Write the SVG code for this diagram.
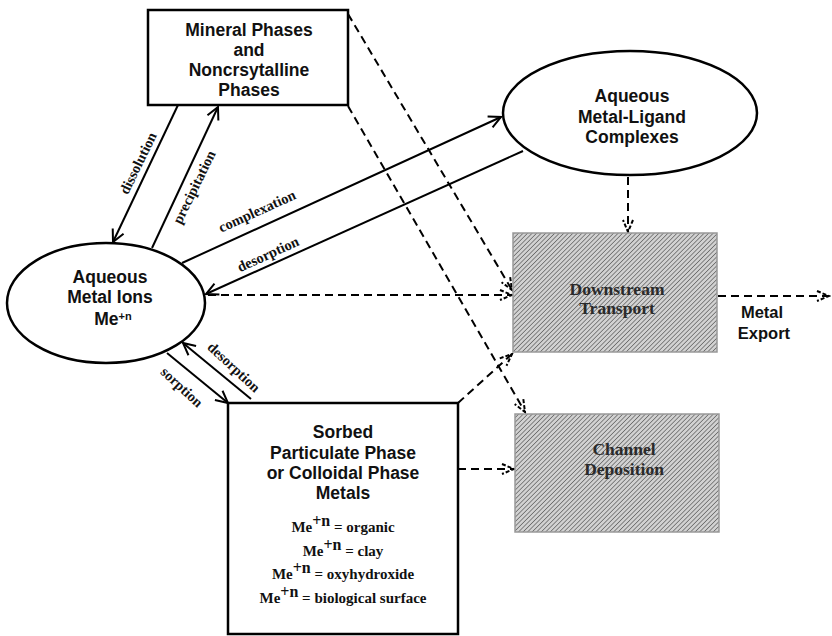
<svg xmlns="http://www.w3.org/2000/svg" width="832" height="636" viewBox="0 0 832 636">
<style>
.node{fill:#fff;stroke:#000;stroke-width:2.5}
.lbl{font-family:"Liberation Sans",Arial,sans-serif;font-weight:bold;font-size:17.5px;fill:#111;text-anchor:middle}
.ser{font-family:"Liberation Serif","Times New Roman",serif;font-weight:bold;font-size:14.5px;fill:#111;text-anchor:middle}
.me{font-family:"Liberation Serif","Times New Roman",serif;font-weight:bold;font-size:15px;fill:#111;text-anchor:middle}
.hl{font-family:"Liberation Serif","Times New Roman",serif;font-weight:bold;font-size:17.5px;fill:#2a2a2a;text-anchor:middle}
.hatch{fill:url(#hatch);stroke:#999;stroke-width:1.5}
.solid{fill:none;stroke:#000;stroke-width:2;marker-end:url(#arr)}
.dash{fill:none;stroke:#000;stroke-width:2;stroke-dasharray:8 5;marker-end:url(#darr)}
</style>
<defs>
<pattern id="hatch" patternUnits="userSpaceOnUse" width="3.2" height="3.2" patternTransform="rotate(45)">
<rect width="3.2" height="3.2" fill="#d2d2d2"/>
<line x1="0" y1="0" x2="0" y2="3.2" stroke="#555" stroke-width="1.3"/>
</pattern>
<marker id="arr" markerUnits="userSpaceOnUse" viewBox="-14 -8 16 16" markerWidth="16" markerHeight="16" refX="0" refY="0" orient="auto">
<path d="M-12,-6 L0,0 L-12,6" fill="none" stroke="#000" stroke-width="2"/>
</marker>
<marker id="darr" markerUnits="userSpaceOnUse" viewBox="-14 -8 16 16" markerWidth="16" markerHeight="16" refX="0" refY="0" orient="auto">
<path d="M-12,-5 L0,0 L-12,5" fill="none" stroke="#000" stroke-width="2" stroke-dasharray="4 2"/>
</marker>
</defs>

<g id="connectors">
<line class="solid" x1="178" y1="105" x2="113" y2="242"/>
<line class="solid" x1="152" y1="248" x2="218" y2="107"/>
<line class="solid" x1="182" y1="263" x2="501" y2="117"/>
<line class="solid" x1="523" y1="151" x2="206" y2="294"/>
<line class="solid" x1="167" y1="353" x2="228" y2="403"/>
<line class="solid" x1="251" y1="399" x2="183" y2="343"/>
<line class="dash" x1="208" y1="295" x2="512" y2="295"/>
<line class="dash" x1="348" y1="14" x2="512" y2="290"/>
<line class="dash" x1="348" y1="106" x2="525" y2="412"/>
<line class="dash" x1="458" y1="403" x2="512" y2="354"/>
<line class="dash" x1="628" y1="177" x2="628" y2="232"/>
<line class="dash" x1="458" y1="469" x2="514" y2="469"/>
<line class="dash" x1="718" y1="296" x2="829" y2="296"/>
<text class="ser" transform="translate(138,163) rotate(-64)" dominant-baseline="central">dissolution</text>
<text class="ser" transform="translate(194,187) rotate(-64)" dominant-baseline="central">precipitation</text>
<text class="ser" transform="translate(257,211) rotate(-24.5)" dominant-baseline="central">complexation</text>
<text class="ser" transform="translate(268,254) rotate(-24.5)" dominant-baseline="central">desorption</text>
<text class="ser" transform="translate(234,367) rotate(43)" dominant-baseline="central">desorption</text>
<text class="ser" transform="translate(182,387) rotate(43)" dominant-baseline="central">sorption</text>
</g>

<g id="mineral">
<rect class="node" x="148" y="10" width="200" height="95"/>
<text class="lbl" x="249" y="36">Mineral Phases</text>
<text class="lbl" x="249" y="56">and</text>
<text class="lbl" x="249" y="76">Noncrsytalline</text>
<text class="lbl" x="249" y="96">Phases</text>
</g>

<g id="ligand">
<ellipse class="node" cx="630" cy="113" rx="127" ry="62"/>
<text class="lbl" x="632" y="102">Aqueous</text>
<text class="lbl" x="632" y="123">Metal-Ligand</text>
<text class="lbl" x="632" y="143">Complexes</text>
</g>

<g id="ions">
<ellipse class="node" cx="106" cy="303" rx="99" ry="60"/>
<text class="lbl" x="110" y="283">Aqueous</text>
<text class="lbl" x="110" y="303">Metal Ions</text>
<text class="lbl" x="113" y="325">Me<tspan dy="-5" font-size="11">+n</tspan></text>
</g>

<g id="sorbed">
<rect class="node" x="228" y="403" width="230" height="231"/>
<text class="lbl" x="343" y="438">Sorbed</text>
<text class="lbl" x="343" y="459">Particulate Phase</text>
<text class="lbl" x="343" y="479">or Colloidal Phase</text>
<text class="lbl" x="343" y="499">Metals</text>
<text class="me" x="343" y="532">Me<tspan dy="-6" font-size="16">+n</tspan><tspan dy="6"> = organic</tspan></text>
<text class="me" x="343" y="556">Me<tspan dy="-6" font-size="16">+n</tspan><tspan dy="6"> = clay</tspan></text>
<text class="me" x="343" y="579">Me<tspan dy="-6" font-size="16">+n</tspan><tspan dy="6"> = oxyhydroxide</tspan></text>
<text class="me" x="343" y="603">Me<tspan dy="-6" font-size="16">+n</tspan><tspan dy="6"> = biological surface</tspan></text>
</g>

<g id="downstream">
<rect class="hatch" x="513" y="233" width="204" height="119"/>
<text class="hl" x="617" y="295">Downstream</text>
<text class="hl" x="617" y="314">Transport</text>
</g>

<g id="channel">
<rect class="hatch" x="515" y="414" width="204" height="118"/>
<text class="hl" x="624" y="455">Channel</text>
<text class="hl" x="624" y="475">Deposition</text>
</g>

<g id="export">
<text class="lbl" x="762" y="318" style="font-size:16.5px">Metal</text>
<text class="lbl" x="764" y="339" style="font-size:16.5px">Export</text>
</g>
</svg>
